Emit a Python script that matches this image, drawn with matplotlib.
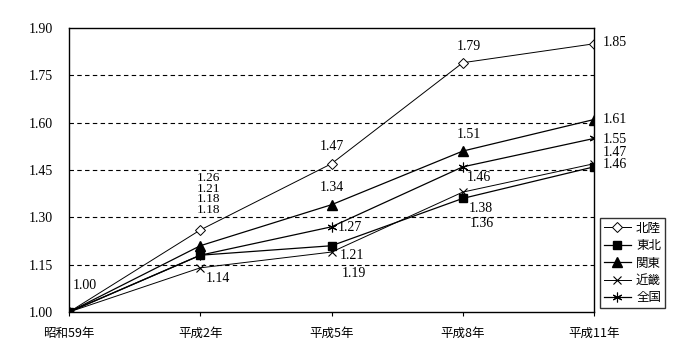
import numpy as np
import matplotlib
matplotlib.use('Agg')
import matplotlib.pyplot as plt

plt.rcParams['font.family'] = ['Liberation Serif', 'Noto Sans CJK JP']

years = ['昭和59年', '平成2年', '平成5年', '平成8年', '平成11年']
hokuriku = [1.00, 1.26, 1.47, 1.79, 1.85]
tohoku = [1.00, 1.18, 1.21, 1.36, 1.46]
kanto = [1.00, 1.21, 1.34, 1.51, 1.61]
kinki = [1.00, 1.14, 1.19, 1.38, 1.47]
zenkoku = [1.00, 1.18, 1.27, 1.46, 1.55]
names = ['北陸', '東北', '関東', '近畿', '全国']

cjk = ['Noto Sans CJK JP']

fig = plt.figure(figsize=(7, 3.6), dpi=100)
ax = fig.add_axes([0.0986, 0.1333, 0.75, 0.7889])
x = np.arange(len(years))

ax.plot(x, hokuriku, color='black', lw=0.7, marker='D', ms=5, mfc='white', mec='black', mew=0.7, label=names[0])
ax.plot(x, tohoku, color='black', lw=0.9, marker='s', ms=6, mfc='black', mec='black', label=names[1])
ax.plot(x, kanto, color='black', lw=0.9, marker='^', ms=7, mfc='black', mec='black', label=names[2])
ax.plot(x, kinki, color='black', lw=0.7, marker='x', ms=6, mew=0.8, label=names[3])
ax.plot(x, zenkoku, color='black', lw=0.9, marker=(6, 2, 0), ms=7, mew=0.8, label=names[4])

yt = [1.00, 1.15, 1.30, 1.45, 1.60, 1.75, 1.90]
ax.set_xlim(0, 4)
ax.set_ylim(1.0, 1.9)
ax.set_yticks(yt)
ax.set_yticklabels(['%.2f' % v for v in yt], fontsize=10)
ax.set_xticks(x)
ax.set_xticklabels(years, fontsize=9, family=cjk)
ax.tick_params(axis='y', length=0, pad=11.5)
ax.tick_params(axis='x', length=3, direction='out', pad=8)
for v in yt[1:-1]:
    ax.axhline(v, color='black', lw=0.8, ls=(0, (4, 3)), zorder=0)
for s in ax.spines.values():
    s.set_linewidth(1.0)

# data labels, offsets in pixels
def lab(xi, yi, txt, dx, dy, ha='center', size=10):
    ax.annotate(txt, (xi, yi), xytext=(dx * 0.72, dy * 0.72), textcoords='offset points',
                ha=ha, va='center', fontsize=size)

lab(0, 1.00, '1.00', 4, 27, 'left')
# stacked labels at 平成2年 are tightly packed in the original
lab(1, hokuriku[1], '1.26', 8, 52, size=9.5)
lab(1, kanto[1], '1.21', 8, 57, size=9.5)
lab(1, tohoku[1], '1.18', 8, 56, size=9.5)
lab(1, zenkoku[1], '1.18', 8, 45, size=9.5)
lab(1, kinki[1], '1.14', 5, -11, 'left')
lab(2, hokuriku[2], '1.47', 0, 17)
lab(2, kanto[2], '1.34', 0, 17)
lab(2, zenkoku[2], '1.27', 6, -1, 'left')
lab(2, tohoku[2], '1.21', 8, -10, 'left')
lab(2, kinki[2], '1.19', 10, -21, 'left')
lab(3, hokuriku[3], '1.79', 6, 16)
lab(3, kanto[3], '1.51', 6, 17)
lab(3, zenkoku[3], '1.46', 4, -11, 'left')
lab(3, kinki[3], '1.38', 6, -16, 'left')
lab(3, tohoku[3], '1.36', 7, -25, 'left')
lab(4, hokuriku[4], '1.85', 9, 1, 'left')
lab(4, kanto[4], '1.61', 9, 0, 'left')
lab(4, zenkoku[4], '1.55', 9, -1, 'left')
lab(4, kinki[4], '1.47', 9, 11, 'left')
lab(4, tohoku[4], '1.46', 9, 2, 'left')

leg = ax.legend(loc='lower left', bbox_to_anchor=(1.011, 0.014), frameon=True, fancybox=False,
                edgecolor='black', prop={'family': cjk, 'size': 9}, handlelength=2.2,
                handletextpad=0.4, labelspacing=0.35, borderpad=0.3, borderaxespad=0)
leg.get_frame().set_linewidth(1.0)

fig.savefig('out.png', dpi=100)
